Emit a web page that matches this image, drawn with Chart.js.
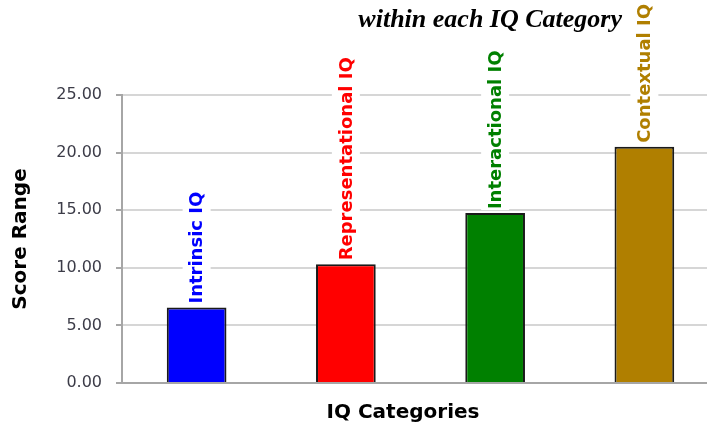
<!DOCTYPE html>
<html>
<head>
<meta charset="utf-8">
<script src="https://cdn.jsdelivr.net/npm/chart.js@4"></script>
<style>
  html, body { margin: 0; padding: 0; background: #fff; overflow: hidden; }
  #wrap { width: 720px; height: 423px; }
</style>
</head>
<body>
<div id="wrap"><canvas id="myChart" width="720" height="423"></canvas></div>
<script>
const categories = ['Intrinsic IQ', 'Representational IQ', 'Interactional IQ', 'Contextual IQ'];
const scores = [6.55, 10.3, 14.75, 20.5];
const barColors = ['#0000ff', '#ff0000', '#008000', '#b07f00'];
const yTicks = [0, 5, 10, 15, 20, 25];

const titleText = 'within each IQ Category';
const xTitle = 'IQ Categories';
const yTitle = 'Score Range';

// vertical labels above the bars, with a white box behind them
const barLabels = {
    id: 'barLabels',
    afterDatasetsDraw(chart) {
        const ctx = chart.ctx;
        const meta = chart.getDatasetMeta(0);
        ctx.save();
        ctx.font = 'bold 18px "DejaVu Sans"';
        meta.data.forEach((bar, i) => {
            const text = categories[i];
            const w = ctx.measureText(text).width;
            ctx.save();
            ctx.translate(bar.x, bar.y - 4);
            ctx.rotate(-Math.PI / 2);
            ctx.fillStyle = '#fff';
            ctx.fillRect(-1, -14, w + 4, 28);
            ctx.fillStyle = barColors[i];
            ctx.textAlign = 'left';
            ctx.textBaseline = 'middle';
            ctx.fillText(text, 0, 1);
            ctx.restore();
        });
        ctx.restore();
    }
};

// heading fragment and x axis title
const extraText = {
    id: 'extraText',
    afterDraw(chart) {
        const ctx = chart.ctx;
        ctx.save();
        ctx.fillStyle = '#000';
        ctx.font = 'italic bold 26px "Liberation Serif"';
        ctx.textAlign = 'right';
        ctx.textBaseline = 'alphabetic';
        ctx.fillText(titleText, 622, 27);
        ctx.font = 'bold 20px "DejaVu Sans"';
        ctx.textAlign = 'center';
        ctx.fillText(xTitle, 403, 418);
        ctx.restore();
    }
};

new Chart(document.getElementById('myChart').getContext('2d'), {
    type: 'bar',
    data: {
        labels: categories,
        datasets: [{
            data: scores,
            backgroundColor: barColors,
            borderColor: '#1a1a1a',
            borderWidth: 2,
            borderSkipped: 'bottom',
            barPercentage: 0.4,
            categoryPercentage: 1
        }]
    },
    options: {
        responsive: false,
        animation: false,
        layout: { padding: { top: 95, right: 1, left: 0, bottom: 0 } },
        plugins: {
            legend: { display: false },
            tooltip: { enabled: false }
        },
        scales: {
            x: {
                ticks: { display: false },
                grid: { display: false },
                border: { display: true, color: '#a6a6a6', width: 2 },
                afterFit(scale) { scale.height = 40; }
            },
            y: {
                min: 0,
                max: 25,
                afterBuildTicks(scale) { scale.ticks = yTicks.map(v => ({ value: v })); },
                ticks: {
                    padding: 14,
                    color: '#3c3c48',
                    font: { family: '"DejaVu Sans"', size: 16 },
                    callback: v => v.toFixed(2)
                },
                grid: { color: '#d6d6d6', lineWidth: 2, tickLength: 6, tickColor: '#a6a6a6' },
                border: { display: true, color: '#a6a6a6', width: 2 },
                title: {
                    display: true,
                    text: yTitle,
                    color: '#000',
                    font: { family: '"DejaVu Sans"', size: 20, weight: 'bold' },
                    padding: { top: 9, bottom: 0 }
                },
                afterFit(scale) { scale.width = 122; }
            }
        }
    },
    plugins: [barLabels, extraText]
});
</script>
</body>
</html>
